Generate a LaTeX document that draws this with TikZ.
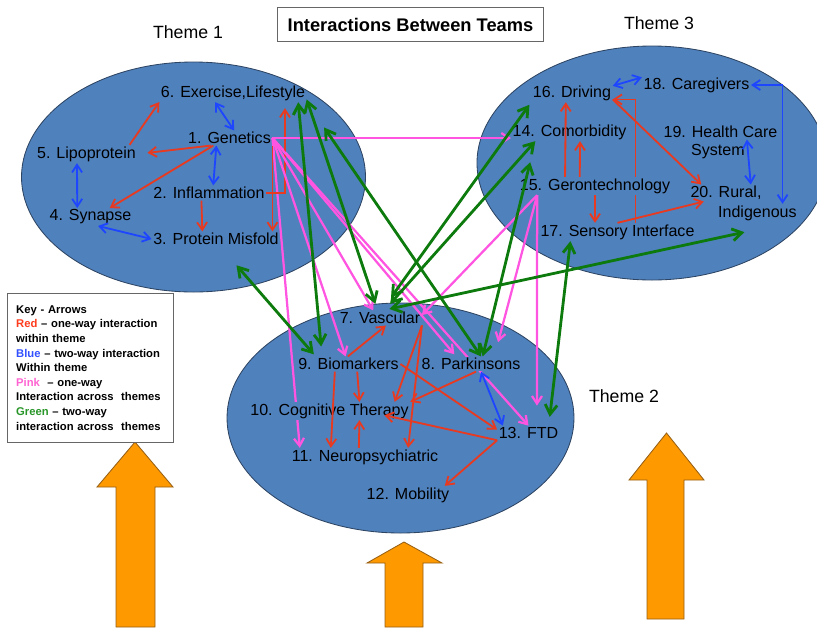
\documentclass[tikz,border=0pt]{standalone}
\usepackage{fontspec}
\setmainfont{Liberation Sans}
\usepackage{tikz}
\usetikzlibrary{calc, arrows.meta}

\definecolor{themeblue}{RGB}{79,129,189}
\definecolor{themeedge}{RGB}{45,68,98}
\definecolor{arrred}{RGB}{232,58,32}
\definecolor{arrblue}{RGB}{30,70,255}
\definecolor{arrpink}{RGB}{255,85,225}
\definecolor{arrgreen}{RGB}{12,122,12}
\definecolor{blockorange}{RGB}{255,153,0}
\definecolor{blockedge}{RGB}{150,95,20}
\definecolor{keyred}{RGB}{255,60,30}
\definecolor{keyblue}{RGB}{50,80,255}
\definecolor{keypink}{RGB}{255,100,210}
\definecolor{keygreen}{RGB}{40,150,40}

\pgfdeclarelayer{back}
\pgfsetlayers{back,main}

\begin{document}
\begin{tikzpicture}[x = .025cm, y = -.025cm, >={Straight Barb[length = 1.9mm, width = 2.5mm]},
    theme/.style = {fill = themeblue, draw = themeedge, line width = .6pt},
    lbl/.style = {font = \fontsize{11.4}{13.7}\selectfont, inner sep = 1pt},
    cover/.style = {lbl, fill = themeblue},
    themelbl/.style = {font = \fontsize{12.6}{15}\selectfont},
    titlebox/.style = {draw = gray!80!black, line width = .8pt, fill = white, font = \bfseries\fontsize{13}{15}\selectfont, minimum width = 6.65cm, minimum height = .86cm},
    keybox/.style = {draw = gray!80!black, line width = .6pt, fill = white, align = left, text width = 3.7cm, inner xsep = .22cm, minimum height = 3.72cm, font = \bfseries\fontsize{8}{10.4}\selectfont},
    onered/.style = {draw = arrred, line width = 1.3pt, ->},
    twoblue/.style = {draw = arrblue, line width = 1.3pt, <->},
    onepink/.style = {draw = arrpink, line width = 1.6pt, ->},
    twogreen/.style = {draw = arrgreen, line width = 2pt, <->, >={Straight Barb[length = 2.4mm, width = 3mm]}},
    bigarrow/.style = {fill = blockorange, draw = blockedge, line width = .6pt}]

    % \draw [help lines] (0, 0) grid [step = 50] (817, 634);
    \useasboundingbox (0, 0) rectangle (817, 634);

    \begin{pgfonlayer}{back}
        \draw [theme] (193.5, 177) ellipse [x radius = 172, y radius = 115];
        \draw [theme] (652, 163) ellipse [x radius = 175, y radius = 117];
        \draw [theme] (400.5, 418) ellipse [x radius = 173.5, y radius = 115];

        \draw [bigarrow] (116, 627) -- (116, 487) -- (97, 487) -- (135, 442) -- (173, 487) -- (155, 487) -- (155, 627) -- cycle;
        \draw [bigarrow] (385, 627) -- (385, 563) -- (367, 563) -- (404, 542) -- (442, 563) -- (423, 563) -- (423, 627) -- cycle;
        \draw [bigarrow] (647, 619) -- (647, 480) -- (629, 480) -- (666.5, 433) -- (704, 480) -- (684, 480) -- (684, 619) -- cycle;
    \end{pgfonlayer}

    \node [titlebox] (title) at (410.5, 24.5) {Interactions Between Teams};
    \node [themelbl] (th1) at (188, 32) {Theme 1};
    \node [themelbl] (th3) at (659, 23) {Theme 3};
    \node [themelbl] (th2) at (624, 396) {Theme 2};

    \node [keybox, anchor = north west] (key) at (7, 293) {Key - Arrows\\
        \textcolor{keyred}{Red} \textendash{} one-way interaction\\
        within theme\\
        \textcolor{keyblue}{Blue} \textendash{} two-way interaction\\
        Within theme\\
        \textcolor{keypink}{Pink}\ \ \textendash{} one-way\\
        Interaction across\ \ themes\\
        \textcolor{keygreen}{Green} \textendash{} two-way\\
        interaction across\ \ themes};

    % theme 1
    \node [lbl] (exer) at (233, 93) {6. Exercise,Lifestyle};
    \node [lbl] (gen) at (229.5, 138) {1. Genetics};
    \node [lbl] (lipo) at (86.5, 154) {5. Lipoprotein};
    \node [lbl] (infl) at (209, 193) {2. Inflammation};
    \node [lbl] (syn) at (90.5, 217) {4. Synapse};
    \node [lbl] (prot) at (216, 239) {3. Protein Misfold};

    % theme 3
    \node [lbl] (driv) at (572, 93) {16. Driving};
    \node [lbl] (care) at (696.5, 85) {18. Caregivers};
    \node [lbl] (comor) at (569.5, 132) {14. Comorbidity};
    \node [lbl] (hcs) at (720.5, 132) {19. Health Care};
    \node [lbl, anchor = west] (hcsb) at (689.5, 152) {System};
    \node [lbl] (rural) at (726, 193) {20. Rural,};
    \node [lbl, anchor = west] (indi) at (716.5, 213) {Indigenous};
    \node [lbl] (sens) at (617.5, 232) {17. Sensory Interface};

    % theme 2
    \node [lbl] (vasc) at (380, 318) {7. Vascular};
    \node [lbl] (bio) at (348.5, 364) {9. Biomarkers};
    \node [lbl] (ftd) at (528.5, 433) {13. FTD};
    \node [lbl] (neuro) at (365, 457) {11. Neuropsychiatric};
    \node [lbl] (mob) at (408, 495) {12. Mobility};

    % these run behind the three labels set next
    \draw [onepink] (gen.east) -- (ftd.north);
    \draw [onepink] (gen.east) -- (neuro.172);
    \draw [onered] (sens.27) |- (driv.-9);

    \node [cover] (geron) at (595, 186) {15. Gerontechnology};
    \node [cover] (park) at (471, 364) {8. Parkinsons};
    \node [cover] (cog) at (329.5, 411) {10. Cognitive Therapy};

    \draw [onered] (lipo.12) -- (exer.187);
    \draw [onered, shorten > = 2.5mm] (gen.202) -- (lipo.east);
    \draw [onered] (gen.205) -- (syn.25);
    \draw [onered] (infl.225) -- (prot.151);
    \draw [onered, shorten > = 1.5mm] (infl.east) -| (exer.-10);
    \draw [onered] (gen.south east) -- (gen.south east |- prot.north);
    \draw [twoblue] (exer.207) -- (gen.59);
    \draw [twoblue] (gen.210) -- (infl.61);
    \draw [twoblue] (lipo.224) -- (syn.146);
    \draw [twoblue] (syn.-50) -- (prot.west);

    \draw [twoblue] (driv.10) -- (care.172);
    \draw [twoblue] (care.east) -| (indi.20);
    \draw [twoblue] (hcs.-16) -- (rural.19);
    \draw [onered] (geron.163) -- (driv.236);
    \draw [onered] (geron.149) -- (comor.-41);
    \draw [onered] (driv.-9) -- (rural.161);
    \draw [onered] (geron.south) -- (geron.south |- sens.north);
    \draw [onered] (sens.north) -- (rural.201);

    \draw [onered] (bio.95) -- (vasc.-52);
    \draw [onered] (vasc.-10) -- (cog.8);
    \draw [onered] (vasc.-10) -- (neuro.12);
    \draw [onered] (bio.-41) -- (cog.17);
    \draw [onered] (bio.209) -- (neuro.165);
    \draw [onered] (neuro.124) -- (cog.-17);
    \draw [onered] (bio.east) -- (ftd.174);
    \draw [onered] (park.-56) -- (cog.north east);
    \draw [onered] (ftd.193) -- ($(cog.south east) + (-26, -5)$);
    \draw [onered] (ftd.193) -- (mob.14);
    \draw [twoblue] (park.-37) -- (ftd.164);

    % across themes
    \draw [onepink] (gen.east) -- (gen.east -| comor.west);
    \draw [onepink] (gen.east) -- (bio.111);
    \draw [onepink] (gen.east) -- (vasc.132);
    \draw [onepink, shorten > = .7mm] (gen.east) -- (park.153);
    \draw [onepink] (geron.189) -- (vasc.4);
    \draw [onepink, shorten > = 3.7mm] (geron.189) -- (park.18);
    \draw [onepink, shorten > = 5mm] (geron.189) -- (ftd.41);

    \draw [twogreen, shorten > = 2.5mm] (exer.-8) -- (bio.164);
    \draw [twogreen, shorten > = 1.7mm] (exer.-5.4) -- (vasc.108);
    \draw [twogreen, shorten < = 7.7mm] (exer.-7.4) -- (park.37);
    \draw [twogreen, shorten < = 6.2mm, shorten > = .7mm] (prot.-61) -- (bio.167);
    \draw [twogreen, shorten < = .8mm, shorten > = 4mm] (driv.south west) -- (vasc.77);
    \draw [twogreen, shorten > = 2.2mm] (comor.195) -- (vasc.61);
    \draw [twogreen, shorten < = 5.4mm] (comor.195) -- (park.33);
    \draw [twogreen, shorten > = 2.2mm] (sens.191) -- (ftd.20);
    \draw [twogreen, shorten > = 1.7mm] ($(indi.south) + (-13, 10)$) -- (vasc.70);

\end{tikzpicture}
\end{document}
